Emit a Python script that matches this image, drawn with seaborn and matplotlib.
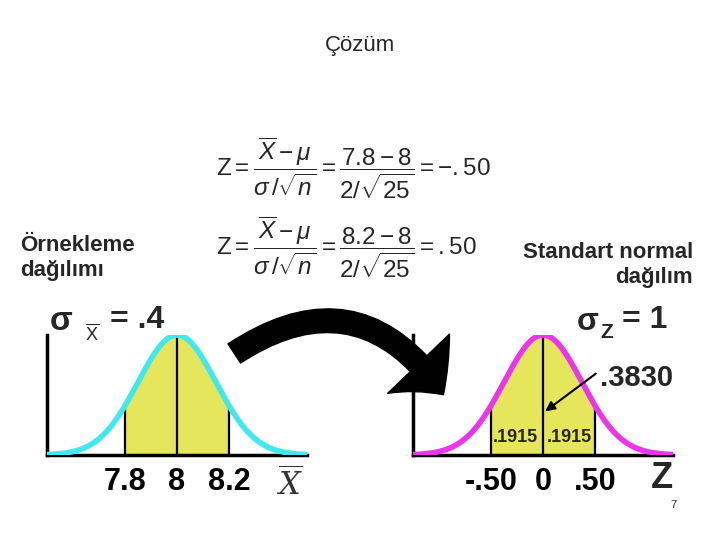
import numpy as np
import seaborn as sns
import matplotlib.pyplot as plt
from matplotlib.patches import FancyArrowPatch

# values
left_mean = 8.0
left_bounds = [7.8, 8.2]
left_labels = ['7.8', '8', '8.2']
right_mean = 0.0
right_bounds = [-0.5, 0.5]
right_labels = ['-.50', '0', '.50']
half_areas = ['.1915', '.1915']
total_area = '.3830'

sns.set_style('white')
plt.rcParams['font.family'] = ['Liberation Sans', 'DejaVu Sans']
plt.rcParams['mathtext.fontset'] = 'custom'
plt.rcParams['mathtext.rm'] = 'Liberation Sans'
plt.rcParams['mathtext.it'] = 'Liberation Sans:italic'
plt.rcParams['mathtext.bf'] = 'Liberation Sans:bold'

W, H = 720, 540
fig = plt.figure(figsize=(7.2, 5.4), dpi=100)


def box(x0, y0, x1, y1):
    # pixel box -> figure fraction rect
    return [x0 / W, 1 - y1 / H, (x1 - x0) / W, (y1 - y0) / H]


def bell(x, mu, s):
    return np.exp(-0.5 * ((x - mu) / s) ** 2)


def draw_curve(ax, mu, s, half, bounds, labels, color, step):
    xs = np.linspace(mu - half, mu + half, 400)
    ys = bell(xs, mu, s)
    mask = (xs >= bounds[0]) & (xs <= bounds[1])
    ax.fill_between(xs[mask], ys[mask], color='#E6E65C', zorder=1)
    sns.lineplot(x=xs, y=ys, ax=ax, color=color, lw=4, zorder=3)
    for b in [bounds[0], mu, bounds[1]]:
        ax.vlines(b, 0, bell(b, mu, s), color='black', lw=1.6, zorder=2)
    ax.set_xlim(mu - half, mu + half)
    ax.set_ylim(0, 1.0)
    ticks = np.arange(mu - half + step, mu + half - 1e-9, step)
    ax.set_xticks(ticks)
    lab = {round(b, 3): l for b, l in zip([bounds[0], mu, bounds[1]], labels)}
    ax.set_xticklabels([lab.get(round(t, 3), '') for t in ticks],
                       fontsize=22, fontweight='bold')
    ax.set_yticks(np.arange(0.1, 1.0, 0.1))
    ax.set_yticklabels([])
    ax.tick_params(axis='x', colors='#999999', labelcolor='black',
                   direction='inout', length=4, width=1.5, pad=7)
    ax.tick_params(axis='y', colors='#aaaaaa', direction='out',
                   length=3, width=1.5)
    for sp in ['top', 'right']:
        ax.spines[sp].set_visible(False)
    for sp in ['left', 'bottom']:
        ax.spines[sp].set_color('black')
        ax.spines[sp].set_linewidth(2.5)


ax1 = fig.add_axes(box(47, 335, 307, 455))
draw_curve(ax1, left_mean, 0.15, 0.5, left_bounds, left_labels, '#3EEAF0', 0.1)

ax2 = fig.add_axes(box(413, 335, 673, 455))
ax2.set_facecolor('none')
draw_curve(ax2, right_mean, 0.375, 1.25, right_bounds, right_labels, '#EE33EE', 0.25)
ax2.set_yticks([])

# big curved arrow
arrow = FancyArrowPatch((232 / W, 1 - 355 / H), (445 / W, 1 - 397 / H),
                        transform=fig.transFigure,
                        connectionstyle='arc3,rad=-0.5',
                        arrowstyle='simple,head_length=1.3,head_width=2.8,tail_width=0.75',
                        mutation_scale=22, color='black', zorder=10)
fig.patches.append(arrow)


def t(x, y, s, **kw):
    fig.text(x / W, 1 - y / H, s, **kw)


t(360, 45, 'Çözüm', fontsize=16, ha='center', va='center')

f1 = r'$\mathrm{Z} = \dfrac{\overline{X} - \mu}{\sigma\,/\sqrt{n}} = \dfrac{7.8 - 8}{2/\sqrt{25}} = -.50$'
f2 = r'$\mathrm{Z} = \dfrac{\overline{X} - \mu}{\sigma\,/\sqrt{n}} = \dfrac{8.2 - 8}{2/\sqrt{25}} = .50$'
t(216, 168, f1, fontsize=17.5, ha='left', va='center')
t(216, 247, f2, fontsize=17.5, ha='left', va='center')

t(20, 258, 'Örnekleme\ndağılımı', fontsize=16, fontweight='bold',
  ha='left', va='center', linespacing=1.3)
t(693, 265, 'Standart normal\ndağılım', fontsize=16, fontweight='bold',
  ha='right', va='center', multialignment='right', linespacing=1.3)

t(50, 322, 'σ', fontsize=24, fontweight='bold', ha='left', va='center')
t(85, 334, r'$\overline{\mathrm{X}}$', fontsize=13, ha='left', va='center')
t(110, 320, '= .4', fontsize=23, fontweight='bold', ha='left', va='center')

t(577, 322, 'σ', fontsize=23, fontweight='bold', ha='left', va='center')
t(600, 332, 'Z', fontsize=15, fontweight='bold', ha='left', va='center')
t(622, 320, '= 1', fontsize=23, fontweight='bold', ha='left', va='center')

t(600, 378, total_area, fontsize=21, fontweight='bold', ha='left', va='center')
t(515, 437, half_areas[0], fontsize=13, fontweight='bold', ha='center', va='center')
t(569, 437, half_areas[1], fontsize=13, fontweight='bold', ha='center', va='center')

ax2.annotate('', xy=(0.0, 0.35), xycoords='data',
             xytext=(598 / W, 1 - 372 / H), textcoords='figure fraction',
             arrowprops=dict(arrowstyle='-|>', color='black', lw=1.5,
                             mutation_scale=14))

t(290, 485, r'$\overline{X}$', fontsize=22, ha='center', va='center',
  color='#333333', math_fontfamily='dejavuserif')
t(662, 478, 'Z', fontsize=26, fontweight='bold', ha='center', va='center')
t(673, 505, '7', fontsize=8, ha='center', va='center')

fig.savefig('out.png', dpi=100)
